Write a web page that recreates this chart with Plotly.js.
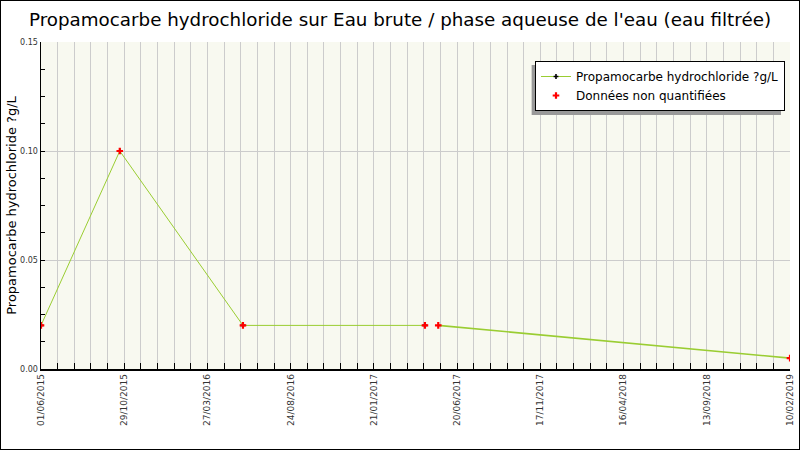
<!DOCTYPE html>
<html>
<head>
<meta charset="utf-8">
<script src="https://cdn.plot.ly/plotly-3.0.1.min.js"></script>
<style>
  body { margin: 0; }
  #chart { width: 800px; height: 450px; box-sizing: border-box; border: 1px solid #000; }
</style>
</head>
<body>
<div id="chart"></div>
<script>
// Sample dates and values (all points are non quantified)
const sampleDates = ["2015-06-01", "2015-10-21", "2016-05-30", "2017-04-23", "2017-05-17", "2019-02-10"];
const sampleValues = [0.02, 0.10, 0.02, 0.02, 0.02, 0.005];
// the line breaks between the 4th and 5th sample
const breakAfter = 3;

// x tick labels (every 150 days)
const xTickLabels = ["01/06/2015", "29/10/2015", "27/03/2016", "24/08/2016", "21/01/2017",
                     "20/06/2017", "17/11/2017", "16/04/2018", "13/09/2018", "10/02/2019"];
const yTickVals = [0, 0.05, 0.10, 0.15];

const seriesName = "Propamocarbe hydrochloride ?g/L";
const nqName = "Données non quantifiées";

// dd/mm/yyyy -> yyyy-mm-dd
function toIso(s) {
    const p = s.split("/");
    return p[2] + "-" + p[1] + "-" + p[0];
}

const xTickVals = xTickLabels.map(toIso);
const lineColor = "#9acd32";

let data = [
    {
        x: sampleDates.slice(0, breakAfter + 1),
        y: sampleValues.slice(0, breakAfter + 1),
        type: "scatter",
        mode: "lines+markers",
        name: seriesName,
        line: { color: lineColor, width: 1 },
        marker: { symbol: "cross", size: 4, color: "#000" }
    },
    {
        x: sampleDates.slice(breakAfter + 1),
        y: sampleValues.slice(breakAfter + 1),
        type: "scatter",
        mode: "lines",
        showlegend: false,
        line: { color: lineColor, width: 1.6 }
    },
    {
        x: sampleDates,
        y: sampleValues,
        type: "scatter",
        mode: "markers",
        name: nqName,
        marker: { symbol: "cross", size: 5.5, color: "#ff0000" }
    }
];

// plot area in pixels: x 41..789, y 42..369
function px(x) { return (x - 41) / 748; }
function py(y) { return (369 - y) / 327; }

let layout = {
    width: 798,
    height: 448,
    margin: { l: 40, r: 9, t: 41, b: 80 },
    paper_bgcolor: "#ffffff",
    plot_bgcolor: "#f8f9f0",
    font: { family: "DejaVu Sans", color: "#000" },
    title: {
        text: "Propamocarbe hydrochloride sur Eau brute / phase aqueuse de l'eau (eau filtrée)",
        font: { family: "DejaVu Sans", size: 18.3, color: "#000" },
        x: 0.5,
        xref: "container",
        y: 0.958,
        yanchor: "middle"
    },
    xaxis: {
        type: "date",
        automargin: false,
        range: [sampleDates[0], sampleDates[sampleDates.length - 1]],
        tickmode: "array",
        tickvals: xTickVals,
        ticktext: xTickLabels,
        tickangle: -90,
        tickfont: { size: 9, color: "#333" },
        ticks: "inside",
        ticklen: 6,
        tickcolor: "#000",
        showgrid: true,
        gridcolor: "#cccccc",
        gridwidth: 1,
        minor: {
            tick0: sampleDates[0],
            dtick: 30 * 86400000,
            ticks: "inside",
            ticklen: 6,
            tickcolor: "#000",
            showgrid: true,
            gridcolor: "#cccccc",
            gridwidth: 1
        },
        showline: true,
        linecolor: "#000",
        linewidth: 1.5,
        zeroline: false,
        fixedrange: true
    },
    yaxis: {
        automargin: false,
        range: [0, 0.15],
        tickmode: "array",
        tickvals: yTickVals,
        tickformat: ".2f",
        tickfont: { size: 8, color: "#333" },
        ticks: "inside",
        ticklen: 4,
        tickcolor: "#000",
        showgrid: true,
        gridcolor: "#cccccc",
        minor: {
            dtick: 0.0125,
            ticks: "inside",
            ticklen: 4,
            tickcolor: "#000",
            showgrid: false
        },
        showline: true,
        linecolor: "#000",
        linewidth: 1.5,
        zeroline: false,
        title: {
            text: seriesName,
            font: { size: 13, color: "#000" },
            standoff: 0
        },
        fixedrange: true
    },
    legend: {
        x: px(784),
        y: py(61),
        xanchor: "right",
        yanchor: "top",
        bgcolor: "#ffffff",
        bordercolor: "#000",
        borderwidth: 1,
        font: { size: 12, color: "#000" },
        tracegroupgap: 0
    },
    shapes: [
        // legend shadow
        {
            type: "rect",
            xref: "paper", yref: "paper",
            x0: px(531), x1: px(780),
            y0: py(115), y1: py(65),
            fillcolor: "#999999",
            line: { width: 0 },
            layer: "above"
        }
    ]
};

Plotly.newPlot("chart", data, layout, { displayModeBar: false, staticPlot: true });
</script>
</body>
</html>
